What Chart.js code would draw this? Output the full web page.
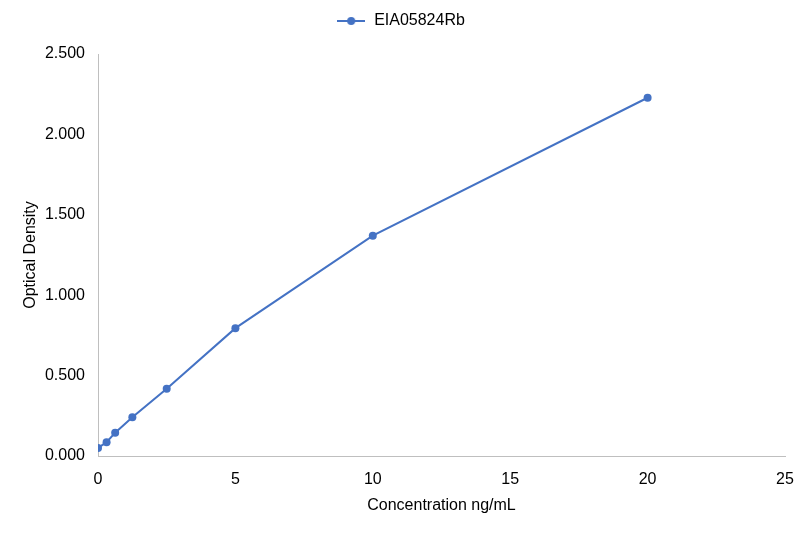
<!DOCTYPE html>
<html><head><meta charset="utf-8">
<script src="https://cdn.jsdelivr.net/npm/chart.js@4"></script>
<style>html,body{margin:0;padding:0;background:#fff}#wrap{width:801px;height:533px}</style>
</head><body><div id="wrap"><canvas id="c"></canvas></div>
<script>
const seriesName = "EIA05824Rb";
const concentrations = [0, 0.3125, 0.625, 1.25, 2.5, 5, 10, 20];
const densities = [0.050, 0.086, 0.145, 0.241, 0.418, 0.795, 1.370, 2.228];
const xTicks = [0, 5, 10, 15, 20, 25];
const yTicks = [0, 0.5, 1.0, 1.5, 2.0, 2.5];
const xTitle = "Concentration ng/mL";
const yTitle = "Optical Density";

const COLOR = '#4472C4';
Chart.defaults.font.family = "'Liberation Sans', Arial, sans-serif";
Chart.defaults.font.size = 16;
Chart.defaults.color = "#000000";

// legend marker: line with a dot
const mk = document.createElement('canvas');
mk.width = 28; mk.height = 10;
const g = mk.getContext('2d');
g.strokeStyle = COLOR; g.lineWidth = 2;
g.beginPath(); g.moveTo(0, 5); g.lineTo(28, 5); g.stroke();
g.fillStyle = COLOR; g.beginPath(); g.arc(14, 5, 4, 0, Math.PI * 2); g.fill();

const legendSpace = {
  id: 'legendSpace',
  beforeInit(chart) {
    const origFit = chart.legend.fit;
    chart.legend.fit = function fit() {
      origFit.bind(chart.legend)();
      this.height += 15;
    };
  }
};

new Chart(document.getElementById('c'), {
  type: 'scatter',
  data: { datasets: [{
    label: seriesName,
    data: concentrations.map((x, i) => ({x, y: densities[i]})),
    showLine: true,
    borderColor: COLOR,
    backgroundColor: COLOR,
    borderWidth: 2,
    pointRadius: 4,
    pointBorderWidth: 0,
    pointHoverRadius: 4,
    pointStyle: 'circle'
  }]},
  plugins: [legendSpace],
  options: {
    responsive: true, maintainAspectRatio: false, animation: false,
    layout: { padding: { left: 0, right: 0, top: 3, bottom: 0 } },
    plugins: {
      legend: { position: 'top', labels: { usePointStyle: true, pointStyle: mk, pointStyleWidth: 30, padding: 10, font: { size: 16 }, color: '#000' } },
      tooltip: { enabled: false }
    },
    scales: {
      x: { type: 'linear', min: 0, max: 25,
        afterBuildTicks: (s) => { s.ticks = xTicks.map(v => ({value: v})); },
        afterFit: (s) => { s.height = 77; s.paddingRight = 16; s.paddingLeft = 0; },
        grid: { display: false, drawTicks: false },
        border: { display: true, color: '#bfbfbf' },
        ticks: { padding: 14, callback: v => String(v) },
        title: { display: true, text: xTitle, font: { size: 16 }, padding: { top: 0, bottom: 18 } } },
      y: { type: 'linear', min: 0, max: 2.5,
        afterBuildTicks: (s) => { s.ticks = yTicks.map(v => ({value: v})); },
        afterFit: (s) => { s.width = 98; },
        grid: { display: false, drawTicks: false },
        border: { display: true, color: '#bfbfbf' },
        ticks: { padding: 13, callback: v => v.toFixed(3) },
        title: { display: true, text: yTitle, font: { size: 16 }, padding: { top: 21, bottom: 0 } } }
    }
  }
});
</script></body></html>
